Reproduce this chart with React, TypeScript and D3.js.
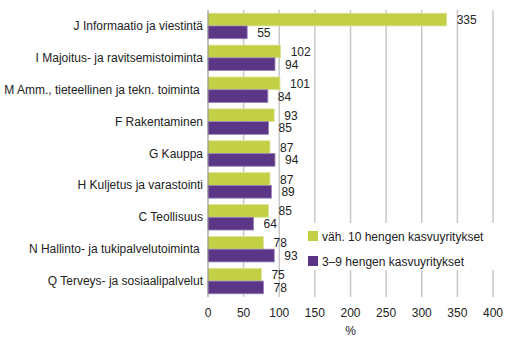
import React from "react";
import * as d3 from "d3";

const categories = [
  "J Informaatio ja viestintä",
  "I Majoitus- ja ravitsemistoiminta",
  "M Amm., tieteellinen ja tekn. toiminta ",
  "F Rakentaminen",
  "G Kauppa",
  "H Kuljetus ja varastointi",
  "C Teollisuus",
  "N Hallinto- ja tukipalvelutoiminta ",
  "Q Terveys- ja sosiaalipalvelut",
];
const large = [335, 102, 101, 93, 87, 87, 85, 78, 75];
const small = [55, 94, 84, 85, 94, 89, 64, 93, 78];
const seriesNames = ["väh. 10 hengen kasvuyritykset", "3–9 hengen kasvuyritykset"];
const ticks = [0, 50, 100, 150, 200, 250, 300, 350, 400];

const colors = ["#c3d046", "#5b3686"];
const strokes = ["#dde6a0", "#9a86b8"];

const W = 510;
const H = 350;
const left = 208;
const right = 493;
const top = 10;
const bottom = 297;

export default function App() {
  const x = d3.scaleLinear().domain([0, 400]).range([left, right]);
  const y = d3.scaleBand().domain(categories).range([top, bottom]).paddingInner(0.2).paddingOuter(0.1);
  const sub = d3.scaleBand().domain(["0", "1"]).range([0, y.bandwidth()]);
  const font = "'Liberation Sans', Arial, sans-serif";
  const data = [large, small];

  return (
    <svg width={W} height={H} style={{ position: "absolute", left: 0, top: 0, background: "#fff" }} fontFamily={font}>
      {ticks.map((t) => (
        <g key={t}>
          {t > 0 && (
            <line x1={x(t)} x2={x(t)} y1={top} y2={bottom} stroke="#c8c8c8" strokeWidth={1.5} />
          )}
          <text x={x(t)} y={317} textAnchor="middle" fontSize={12} fill="#222">
            {t}
          </text>
        </g>
      ))}
      <text x={x(200)} y={335} textAnchor="middle" fontSize={12} fill="#222">
        %
      </text>
      {categories.map((c, i) => (
        <g key={c}>
          <text
            x={203}
            y={(y(c) ?? 0) + y.bandwidth() / 2 + 4}
            textAnchor="end"
            fontSize={12}
            fill="#222"
            style={{ whiteSpace: "pre" }}
          >
            {c}
          </text>
          {data.map((s, k) => {
            const by = (y(c) ?? 0) + (sub(String(k)) ?? 0);
            return (
              <g key={k}>
                <rect
                  x={x(0)}
                  y={by}
                  width={x(s[i]) - x(0)}
                  height={sub.bandwidth()}
                  fill={colors[k]}
                  stroke={strokes[k]}
                  strokeWidth={0.8}
                />
                <text x={x(s[i]) + 10} y={by + sub.bandwidth() / 2 + 4.5} fontSize={12} fill="#222">
                  {s[i]}
                </text>
              </g>
            );
          })}
        </g>
      ))}
      <line x1={x(0)} x2={x(0)} y1={top} y2={bottom} stroke="#888" strokeWidth={1} />
      <rect x={302} y={223} width={198} height={47} fill="#fff" />
      {seriesNames.map((n, k) => (
        <g key={n} transform={`translate(308,${231 + k * 25})`}>
          <rect width={10} height={10} fill={colors[k]} />
          <text x={14} y={9.5} fontSize={12} fill="#222">
            {n}
          </text>
        </g>
      ))}
    </svg>
  );
}
